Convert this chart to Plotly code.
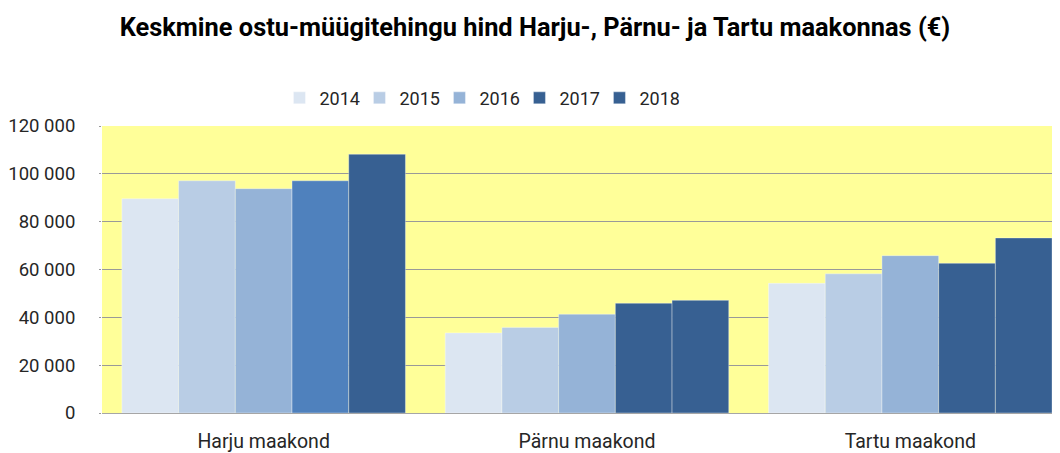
import plotly.graph_objects as go

categories = ["Harju maakond", "Pärnu maakond", "Tartu maakond"]
years = ["2014", "2015", "2016", "2017", "2018"]
values = {
    "2014": [89600, 33500, 54200],
    "2015": [97100, 35800, 58200],
    "2016": [93800, 41300, 65800],
    "2017": [97100, 45900, 62600],
    "2018": [108200, 47100, 73200],
}
y_tickvals = [0, 20000, 40000, 60000, 80000, 100000, 120000]
y_ticktext = ["0", "20 000", "40 000", "60 000", "80 000", "100 000", "120 000"]

colors = {
    "2014": "#DCE6F2",
    "2015": "#B9CDE5",
    "2016": "#95B3D7",
    "2017": "#376092",
    "2018": "#376092",
}
harju_2017_color = "#4F81BD"

font_main = "Roboto, sans-serif"
edge = dict(width=0.6, color="rgba(255,255,255,0.6)")

fig = go.Figure()
for yr in years:
    vals = values[yr]
    if yr == "2017":
        fig.add_trace(go.Bar(
            x=categories, y=[None] + vals[1:], name=yr,
            marker=dict(color=colors[yr], line=edge),
            offsetgroup=yr, legendgroup=yr,
        ))
        fig.add_trace(go.Bar(
            x=categories, y=[vals[0], None, None], name=yr, showlegend=False,
            marker=dict(color=harju_2017_color, line=edge),
            offsetgroup=yr, legendgroup=yr,
        ))
    else:
        fig.add_trace(go.Bar(
            x=categories, y=vals, name=yr,
            marker=dict(color=colors[yr], line=edge),
            offsetgroup=yr, legendgroup=yr,
        ))

W, H = 1052, 445
fig.update_layout(
    width=W, height=H,
    margin=dict(l=92, r=0, t=118, b=37),
    paper_bgcolor="white",
    plot_bgcolor="#FFFF99",
    barmode="group",
    bargap=0.123, bargroupgap=0,
    font=dict(family=font_main, size=18, color="#262626"),
    title=dict(
        text="<b>Keskmine ostu-müügitehingu hind Harju-, Pärnu- ja Tartu maakonnas (€)</b>",
        x=527 / W, xanchor="center", xref="container",
        y=1 - 19 / H, yanchor="middle", yref="container",
        font=dict(family=font_main, size=25.4, color="black"),
    ),
    legend=dict(
        orientation="h", x=0.394, xanchor="center", y=1.097, yanchor="middle",
        font=dict(family=font_main, size=18, color="#262626"),
        bgcolor="rgba(0,0,0,0)", itemwidth=30, traceorder="normal",
        entrywidth=35, entrywidthmode="pixels",
    ),
    showlegend=True,
)
fig.update_xaxes(
    type="category", range=[-0.5, 2.463],
    showline=True, linecolor="#A6A6A6", linewidth=1,
    ticks="", showgrid=False, tickfont=dict(size=19.5), ticklabelstandoff=11,
)
fig.update_yaxes(
    range=[0, 120000], tickvals=y_tickvals, ticktext=y_ticktext,
    showgrid=True, gridcolor="#999999", gridwidth=1,
    zeroline=False, showline=False, ticks="outside", ticklen=2, tickcolor="#999999",
    tickfont=dict(size=18.5), ticklabelstandoff=20,
)

fig.write_html("out.html")
